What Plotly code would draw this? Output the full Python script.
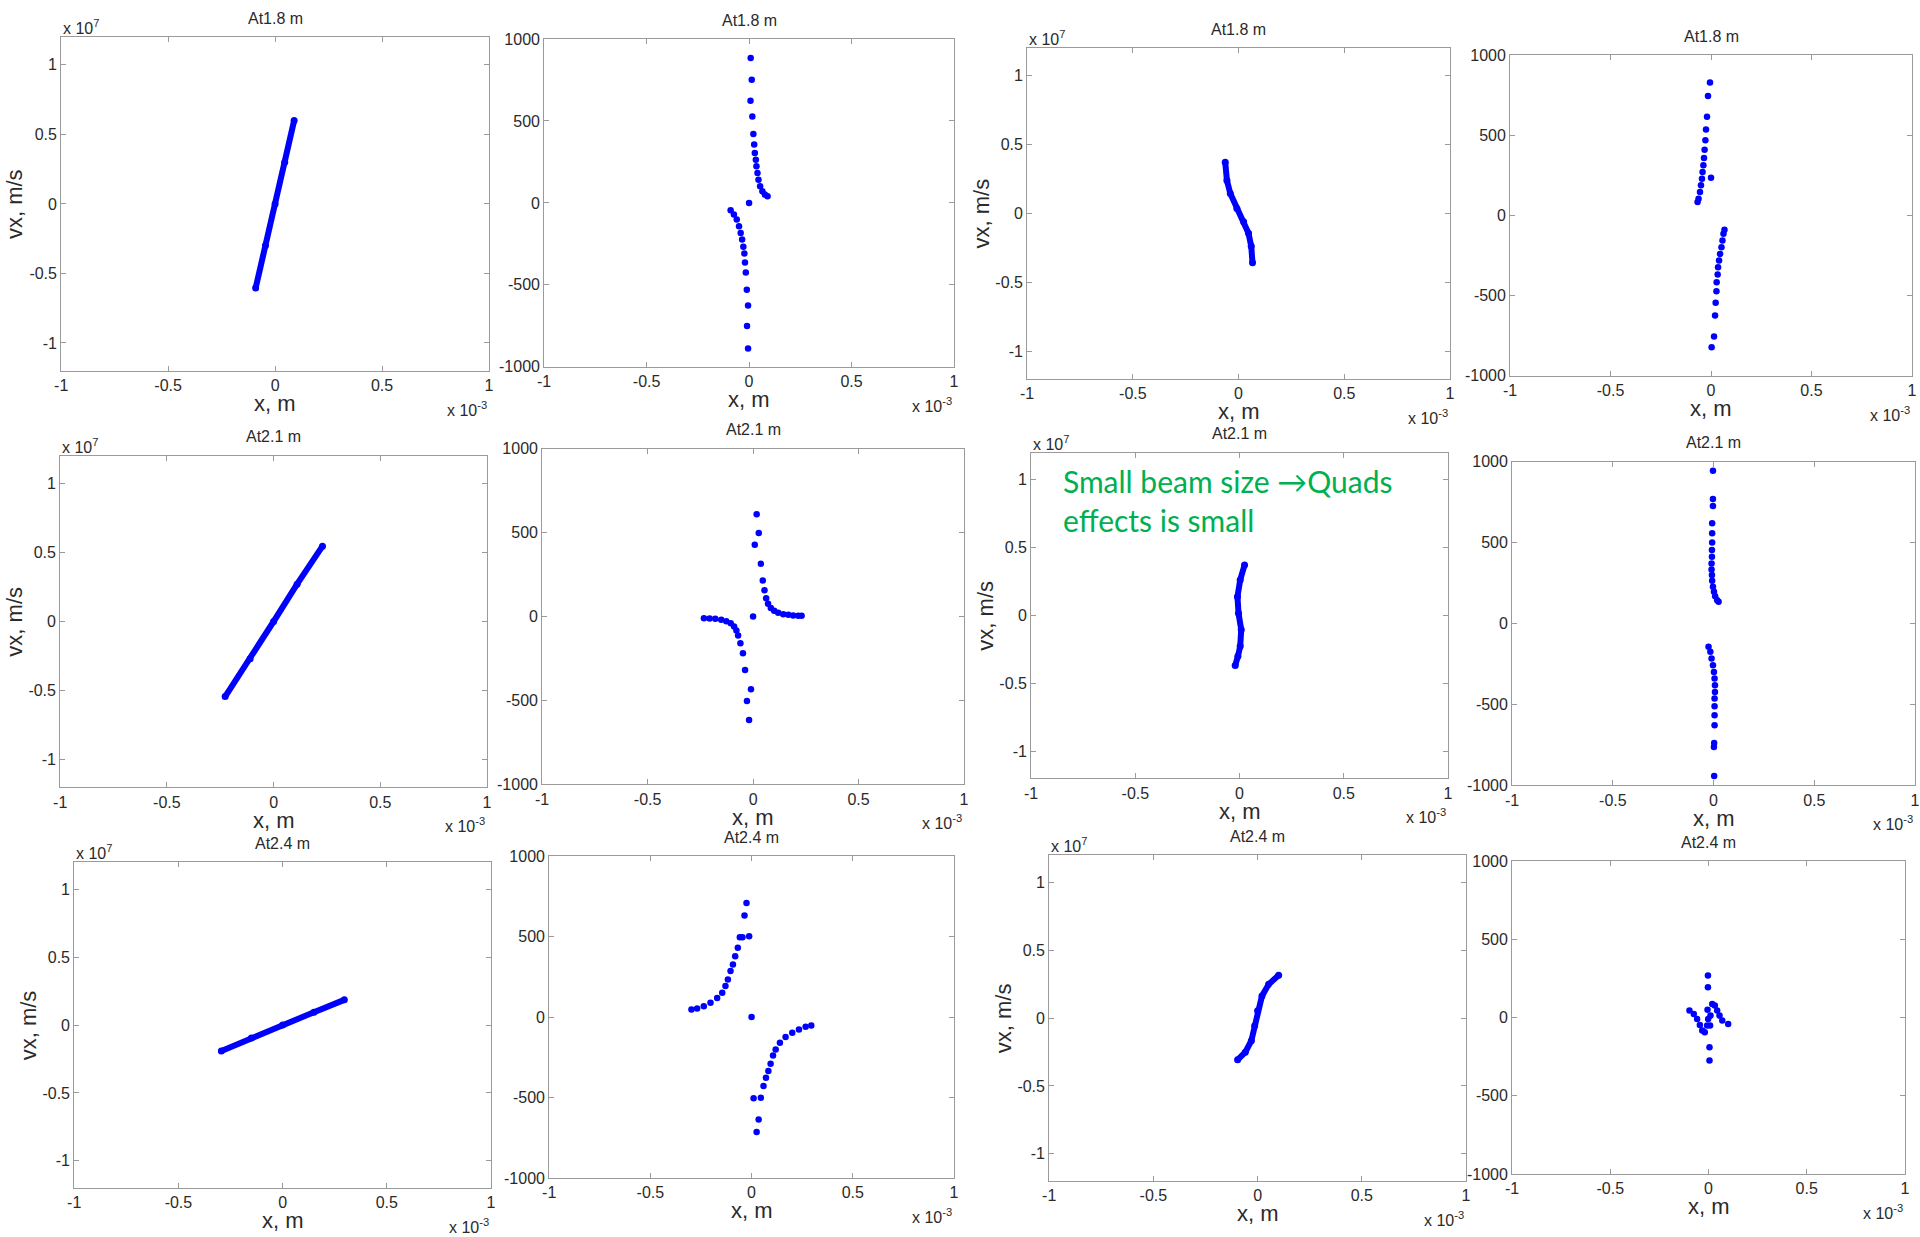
import plotly.graph_objects as go

W, H = 1920, 1237
# the page photograph shows the figure with the body's 8 px margin and rescaled by these factors;
# target positions (measured on the reference) are mapped back to figure pixels with them
OFF = 8
SX, SY = 1936 / 1920, 1253 / 1237

# ---------------- data (x in units of 1e-3 m; vx in 1e7 m/s for "vx" panels, m/s otherwise) -------------
titles = ["At1.8 m", "At1.8 m", "At1.8 m", "At1.8 m",
          "At2.1 m", "At2.1 m", "At2.1 m", "At2.1 m",
          "At2.4 m", "At2.4 m", "At2.4 m", "At2.4 m"]

x_p1 = [-0.091, -0.045, 0.0, 0.045, 0.089]
y_p1 = [-0.605, -0.30, 0.0, 0.30, 0.600]

x_p2 = [0.008, 0.013, 0.007, 0.016, 0.021, 0.025, 0.028, 0.033, 0.036, 0.041, 0.046, 0.054, 0.065, 0.077, 0.090,
        0.0,
        -0.090, -0.074, -0.060, -0.049, -0.041, -0.034, -0.028, -0.023, -0.020, -0.016, -0.011, -0.005, -0.010, -0.005]
y_p2 = [884, 752, 624, 528, 421, 356, 305, 264, 224, 183, 142, 102, 71, 51, 41,
        0,
        -45, -71, -102, -142, -183, -224, -268, -309, -364, -425, -530, -626, -752, -888]

x_p3 = [-0.063, -0.055, -0.039, -0.008, 0.024, 0.047, 0.060, 0.066]
y_p3 = [0.371, 0.239, 0.144, 0.036, -0.060, -0.144, -0.239, -0.359]

x_p4 = [-0.005, -0.015, -0.020, -0.025, -0.028, -0.032, -0.035, -0.038, -0.042, -0.045, -0.050, -0.055, -0.062, -0.067,
        0.0,
        0.067, 0.062, 0.057, 0.052, 0.045, 0.040, 0.035, 0.033, 0.028, 0.027, 0.023, 0.020, 0.015, 0.003]
y_p4 = [829, 744, 615, 535, 469, 410, 358, 313, 271, 229, 188, 146, 104, 83,
        235,
        -90, -115, -156, -198, -240, -281, -323, -369, -417, -473, -544, -625, -756, -823]

x_p5 = [-0.227, -0.11, 0.0, 0.11, 0.229]
y_p5 = [-0.543, -0.27, 0.0, 0.27, 0.545]

x_p6 = [0.017, 0.027, 0.008, 0.037, 0.046, 0.054, 0.062, 0.071, 0.084, 0.100, 0.119, 0.143, 0.167, 0.190, 0.214, 0.230,
        0.0,
        -0.233, -0.206, -0.179, -0.151, -0.127, -0.106, -0.090, -0.079, -0.071, -0.060, -0.048, -0.038, -0.010, -0.029, -0.019]
y_p6 = [610, 497, 427, 314, 215, 157, 109, 76, 50, 34, 22, 14, 10, 6, 4, 4,
        0,
        -10, -12, -14, -20, -28, -40, -60, -83, -113, -159, -219, -318, -433, -503, -616]

x_p7 = [0.024, 0.003, -0.010, -0.005, 0.008, 0.003, -0.008, -0.021]
y_p7 = [0.372, 0.262, 0.139, 0.017, -0.105, -0.227, -0.301, -0.369]

x_p8 = [-0.003, -0.003, -0.003, -0.007, -0.007, -0.007, -0.008, -0.008, -0.010, -0.010, -0.008, -0.007, -0.003,
        0.002, 0.008, 0.018, 0.025,
        -0.025, -0.016, -0.010, -0.003, 0.002, 0.005, 0.007, 0.007, 0.005, 0.005, 0.005, 0.005, 0.003, 0.002, 0.003]
y_p8 = [944, 769, 726, 619, 557, 501, 454, 412, 371, 334, 299, 264, 227,
        196, 169, 144, 134,
        -144, -175, -216, -258, -299, -340, -381, -423, -464, -511, -567, -629, -738, -763, -942]

x_p9 = [-0.294, -0.15, 0.0, 0.15, 0.296]
y_p9 = [-0.191, -0.095, 0.0, 0.095, 0.186]

x_p10 = [-0.297, -0.269, -0.236, -0.203, -0.170, -0.145, -0.129, -0.117, -0.104, -0.092, -0.081, -0.068, -0.058,
         -0.045, -0.035, -0.025, -0.012,
         0.0,
         0.295, 0.267, 0.234, 0.201, 0.168, 0.140, 0.119, 0.106, 0.094, 0.083, 0.071, 0.059, 0.046, 0.010, 0.035, 0.025]
y_p10 = [48, 54, 68, 89, 118, 151, 193, 234, 286, 327, 379, 431, 497,
         497, 631, 710, 503,
         0,
         -52, -60, -77, -97, -124, -159, -201, -238, -290, -335, -377, -429, -501, -505, -636, -714]

x_p11 = [-0.096, -0.059, -0.030, -0.014, 0.000, 0.021, 0.053, 0.101]
y_p11 = [-0.307, -0.251, -0.166, -0.056, 0.054, 0.163, 0.249, 0.315]

x_p12 = [-0.003, -0.003, -0.097, -0.075, -0.058, -0.044, -0.032, -0.019, -0.007, -0.002, -0.005,
         0.010, 0.019, 0.032, 0.044, 0.056, 0.070, 0.100, 0.008, 0.005, 0.005]
y_p12 = [269, 194, 45, 23, -9, -47, -83, -94, -51, -9, 51,
         13, 87, 77, 45, 13, -19, -41, -51, -190, -275]

xs = [x_p1, x_p2, x_p3, x_p4, x_p5, x_p6, x_p7, x_p8, x_p9, x_p10, x_p11, x_p12]
ys = [y_p1, y_p2, y_p3, y_p4, y_p5, y_p6, y_p7, y_p8, y_p9, y_p10, y_p11, y_p12]
is_vx = [True, False, True, False] * 3   # panels with vx in units of 1e7 (drawn as continuous band)

x_tickvals = [-1, -0.5, 0, 0.5, 1]
x_ticktext = ["-1", "-0.5", "0", "0.5", "1"]
vx_tickvals = [-1, -0.5, 0, 0.5, 1]
vx_ticktext = ["-1", "-0.5", "0", "0.5", "1"]
v_tickvals = [-1000, -500, 0, 500, 1000]
v_ticktext = ["-1000", "-500", "0", "500", "1000"]

annotation_text = "Small beam size \u2192Quads<br>effects is small"

# ---------------- layout: plot boxes in picture pixels (left, right, top, bottom) ----------------
boxes = [
    (62, 489, 37, 371), (544, 953, 39, 367), (1026, 1448, 48, 379), (1508, 1909, 55, 376),
    (61, 487, 456, 788), (542, 963, 449, 785), (1030, 1446, 453, 779), (1510, 1916, 462, 786),
    (75, 491, 863, 1189), (549, 953, 857, 1179), (1048, 1464, 856, 1182), (1510, 1902, 862, 1175),
]


def fx(px):
    return min(1.0, max(0.0, (px * SX - OFF) / W))


def fy(py):
    return min(1.0, max(0.0, 1 - (py * SY - OFF) / H))


AX = "#9a9a9a"
TXT = "#2a2a2a"
FONT = "Liberation Sans, Arial, sans-serif"
BLUE = "#0000ff"

fig = go.Figure()
layout = dict(
    width=W, height=H, margin=dict(l=0, r=0, t=0, b=0),
    paper_bgcolor="white", plot_bgcolor="white", showlegend=False,
    font=dict(family=FONT, color=TXT, size=16),
)
annotations = []

for i, (l, r, t, b) in enumerate(boxes):
    n = i + 1
    sfx = "" if n == 1 else str(n)
    xa, ya = "x" + sfx, "y" + sfx
    if is_vx[i]:
        fig.add_trace(go.Scatter(x=xs[i], y=ys[i], mode="lines+markers", xaxis=xa, yaxis=ya,
                                 line=dict(color=BLUE, width=6), marker=dict(color=BLUE, size=7),
                                 hoverinfo="skip"))
        yr = [-1.2, 1.2]
        ytv, ytt = vx_tickvals, vx_ticktext
    else:
        fig.add_trace(go.Scatter(x=xs[i], y=ys[i], mode="markers", xaxis=xa, yaxis=ya,
                                 marker=dict(color=BLUE, size=6.5), hoverinfo="skip"))
        yr = [-1000, 1000]
        ytv, ytt = v_tickvals, v_ticktext
    common = dict(showline=True, mirror="ticks", linecolor=AX, linewidth=1, ticks="inside",
                  ticklen=5, tickcolor=AX, tickwidth=1, showgrid=False, zeroline=False,
                  tickfont=dict(size=16, color=TXT, family=FONT), fixedrange=True)
    layout["xaxis" + sfx] = dict(domain=[fx(l), fx(r)], range=[-1, 1], anchor=ya,
                                 tickvals=x_tickvals, ticktext=x_ticktext, **common)
    layout["yaxis" + sfx] = dict(domain=[fy(b), fy(t)], range=yr, anchor=xa,
                                 tickvals=ytv, ticktext=ytt, **common)
    xd, yd = xa + " domain", ya + " domain"
    annotations.append(dict(text=titles[i], xref=xd, yref=yd, x=0.5, y=1, yshift=19,
                            xanchor="center", yanchor="middle", showarrow=False,
                            font=dict(size=16, color=TXT, family=FONT)))
    annotations.append(dict(text="x, m", xref=xd, yref=yd, x=0.5, y=0, yshift=-33,
                            xanchor="center", yanchor="middle", showarrow=False,
                            font=dict(size=22, color=TXT, family=FONT)))
    annotations.append(dict(text="x 10<sup>-3</sup>", xref=xd, yref=yd, x=1, y=0, yshift=-38,
                            xanchor="right", yanchor="middle", showarrow=False,
                            font=dict(size=16, color=TXT, family=FONT)))
    if is_vx[i]:
        annotations.append(dict(text="vx, m/s", xref=xd, yref=yd, x=0, y=0.5, xshift=-46,
                                xanchor="center", yanchor="middle", textangle=-90, showarrow=False,
                                font=dict(size=22, color=TXT, family=FONT)))
        annotations.append(dict(text="x 10<sup>7</sup>", xref=xd, yref=yd, x=0, y=1, yshift=10,
                                xanchor="left", yanchor="middle", showarrow=False,
                                font=dict(size=16, color=TXT, family=FONT)))

annotations.append(dict(text=annotation_text, xref="paper", yref="paper",
                        x=fx(1060), y=fy(461), xanchor="left", yanchor="top", align="left",
                        showarrow=False, font=dict(size=30, color="#00b050", family="Lato, Noto Sans, sans-serif")))

layout["annotations"] = annotations
fig.update_layout(**layout)
fig.write_html("out.html")
